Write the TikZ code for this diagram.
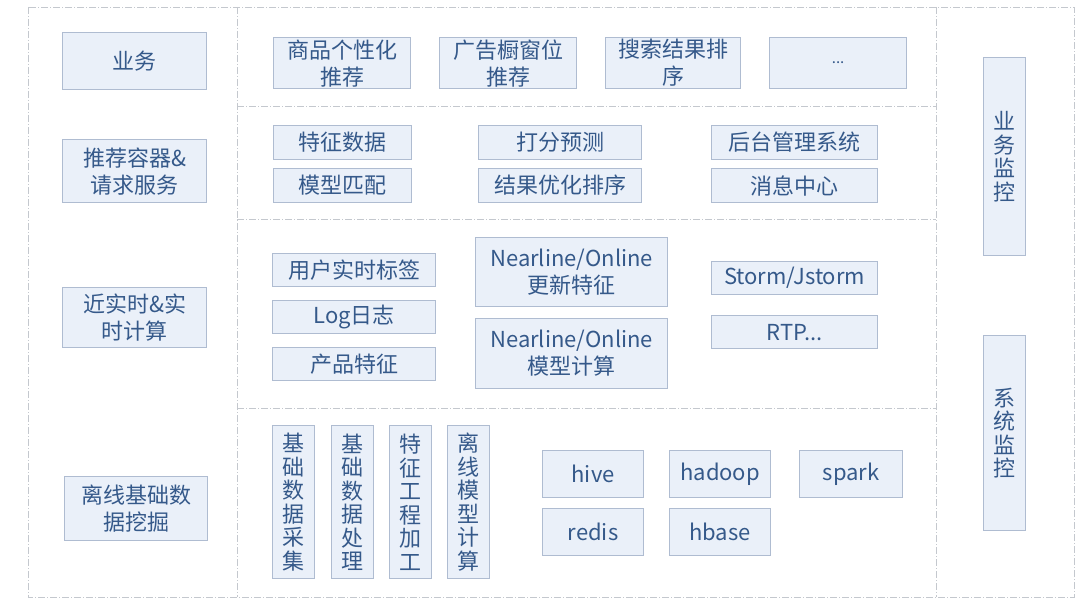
\documentclass[tikz,border=0pt]{standalone}
\usepackage{fontspec}
\setmainfont{Noto Sans CJK SC}
\definecolor{Frame}{HTML}{C4C8CE}
\definecolor{BoxFill}{HTML}{EAF0F9}
\definecolor{BoxLine}{HTML}{AFBCD1}
\definecolor{BoxText}{HTML}{35598A}

\begin{document}
\begin{tikzpicture}[x=1pt,y=-1pt,
  every node/.style={font=\fontsize{22}{27}\selectfont,text=BoxText},
  box/.style={draw=BoxLine,fill=BoxFill,line width=1.2pt,inner sep=0pt,anchor=north west,align=center},
  vbox/.style={box,font=\fontsize{22}{23.5}\selectfont},
  frame/.style={draw=Frame,line width=0.9pt,dash pattern=on 7pt off 2pt on 1pt off 2pt}]
\fill[white] (0,0) rectangle (1080,602);
\useasboundingbox (0,0) rectangle (1080,602);
% frame and layer separators
\draw[frame] (28,7) rectangle (1074,597);
\draw[frame] (237,7)--(237,597);
\draw[frame] (936,7)--(936,597);
\draw[frame] (237,106)--(936,106);
\draw[frame] (237,219)--(936,219);
\draw[frame] (237,408)--(936,408);
% layer titles
\node[box,minimum width=144pt,minimum height=57pt] (biz) at (62,32) {业务};
\node[box,minimum width=144pt,minimum height=63pt] (container) at (62,139) {推荐容器\&\\请求服务};
\node[box,minimum width=144pt,minimum height=60pt] (realtime) at (62,287) {近实时\&实\\时计算};
\node[box,minimum width=143pt,minimum height=64pt] (offline) at (64,476) {离线基础数\\据挖掘};
% business layer
\node[box,minimum width=137pt,minimum height=51pt] (goods) at (273,37) {商品个性化\\推荐};
\node[box,minimum width=137pt,minimum height=51pt] (ads) at (439,37) {广告橱窗位\\推荐};
\node[box,minimum width=135pt,minimum height=51pt] (search) at (605,37) {搜索结果排\\序};
\node[box,minimum width=137pt,minimum height=51pt,font=\fontsize{15}{16}\selectfont] (more) at (769,37) {...};
% container layer
\node[box,minimum width=138pt,minimum height=34pt] (feat) at (273,125) {特征数据};
\node[box,minimum width=138pt,minimum height=34pt] (match) at (273,168) {模型匹配};
\node[box,minimum width=163pt,minimum height=34pt] (score) at (478,125) {打分预测};
\node[box,minimum width=163pt,minimum height=34pt] (rank) at (478,168) {结果优化排序};
\node[box,minimum width=166pt,minimum height=34pt] (admin) at (711,125) {后台管理系统};
\node[box,minimum width=166pt,minimum height=34pt] (msg) at (711,168) {消息中心};
% realtime layer
\node[box,minimum width=163pt,minimum height=33pt] (tags) at (272,253) {用户实时标签};
\node[box,minimum width=163pt,minimum height=33pt] (log) at (272,300) {Log日志};
\node[box,minimum width=163pt,minimum height=33pt] (prod) at (272,347) {产品特征};
\node[box,minimum width=192pt,minimum height=69pt] (nlfeat) at (475,237) {Nearline/Online\\更新特征};
\node[box,minimum width=192pt,minimum height=70pt] (nlmodel) at (475,318) {Nearline/Online\\模型计算};
\node[box,minimum width=166pt,minimum height=33pt] (storm) at (711,261) {Storm/Jstorm};
\node[box,minimum width=166pt,minimum height=33pt] (rtp) at (711,315) {RTP...};
% offline layer
\node[vbox,minimum width=42pt,minimum height=153pt] (collect) at (272,425) {基\\础\\数\\据\\采\\集};
\node[vbox,minimum width=42pt,minimum height=153pt] (process) at (331,425) {基\\础\\数\\据\\处\\理};
\node[vbox,minimum width=42pt,minimum height=153pt] (fe) at (389,425) {特\\征\\工\\程\\加\\工};
\node[vbox,minimum width=42pt,minimum height=153pt] (train) at (447,425) {离\\线\\模\\型\\计\\算};
\node[box,minimum width=101pt,minimum height=47pt] (hive) at (542,450) {hive};
\node[box,minimum width=101pt,minimum height=47pt] (hadoop) at (669,450) {hadoop};
\node[box,minimum width=103pt,minimum height=47pt] (spark) at (799,450) {spark};
\node[box,minimum width=101pt,minimum height=47pt] (redis) at (542,508) {redis};
\node[box,minimum width=101pt,minimum height=47pt] (hbase) at (669,508) {hbase};
% monitoring
\node[vbox,minimum width=42pt,minimum height=198pt] (bizmon) at (983,57) {业\\务\\监\\控};
\node[vbox,minimum width=42pt,minimum height=195pt] (sysmon) at (983,335) {系\\统\\监\\控};
\end{tikzpicture}
\end{document}
